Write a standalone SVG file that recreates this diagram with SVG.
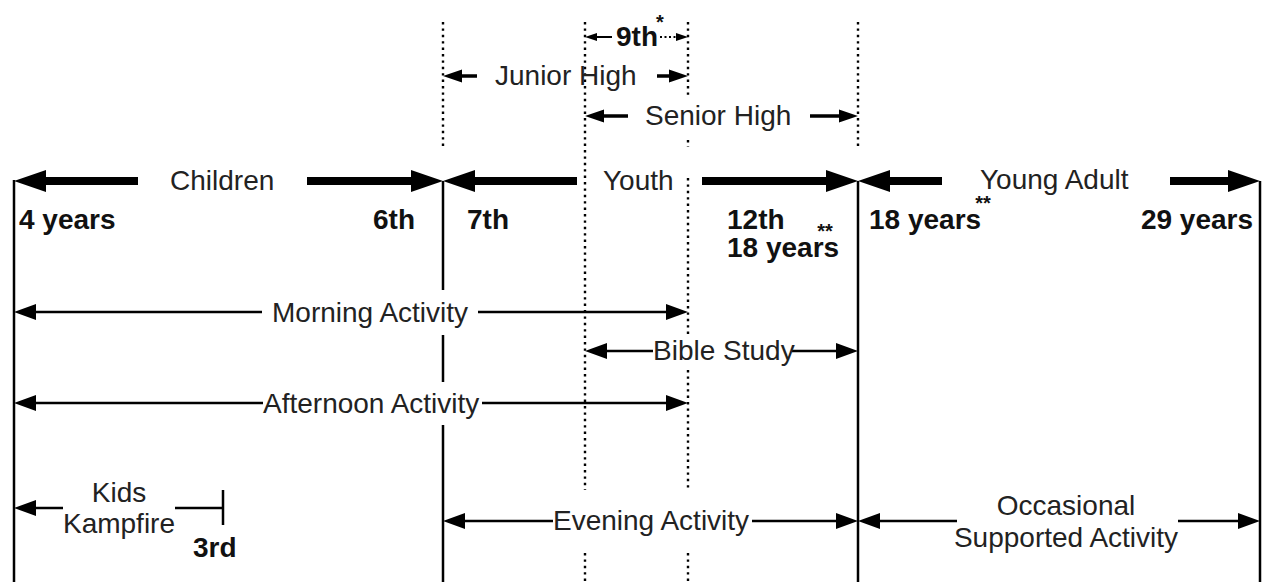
<svg xmlns="http://www.w3.org/2000/svg" width="1267" height="582" viewBox="0 0 1267 582">
<style>
text{font-family:"Liberation Sans",Arial,sans-serif;font-size:28px;fill:#222}
.b{font-weight:bold;fill:#111}
.ast{font-weight:bold;font-size:20px;fill:#111}
.solid{stroke:#000;stroke-width:2.5;fill:none}
.dot{stroke:#000;stroke-width:2.4;stroke-dasharray:2.4,4;fill:none}
.thick{stroke:#000;stroke-width:8;fill:none}
.med{stroke:#000;stroke-width:3.5;fill:none}
.thin{stroke:#000;stroke-width:2.5;fill:none}
.fine{stroke:#000;stroke-width:2;fill:none}
.hd{fill:#000}
</style>
<rect width="1267" height="582" fill="#fff"/>
<g id="guides">
<path class="solid" d="M14,180V582M443,181V290M443,335V382M443,425V582M858,181V582M1260,181V582"/>
<path class="dot" d="M443,22V146M858,22V146M585,22V490M585,553V582M688,22V96M688,140V147M688,178V335M688,370V490M688,553V582"/>
</g>
<g id="connectors">
<path class="thick" d="M138,181H38M307,181H419M577,181H467M702,181H834M942,181H882M1170,181H1236"/>
<path class="hd" d="M14,181L46,170V192ZM443,181L411,170V192ZM443,181L475,170V192ZM858,181L826,170V192ZM858,181L890,170V192ZM1260,181L1228,170V192Z"/>
<path class="fine" d="M612,37H592"/>
<path class="fine" d="M660,37H680" stroke-dasharray="2,2.5"/>
<path class="hd" d="M585,37L597,33V41ZM688,37L676,33V41Z"/>
<path class="med" d="M477,76H455M657,76H676M628,116H597M810,116H846"/>
<path class="hd" d="M443,76L462,69.5V82.5ZM688,76L669,69.5V82.5ZM585,116L604,109.5V122.5ZM858,116L839,109.5V122.5Z"/>
<path class="thin" d="M262,312H30M478,312H672M653,351H600M792,351H842M263,403H30M482,403H672M63,508H30M175,508H223M223,490V525M553,521H459M752,521H842M957,521H874M1178,521H1244"/>
<path class="hd" d="M14,312L36,304V320ZM688,312L666,304V320ZM585,351L607,343V359ZM858,351L836,343V359ZM14,403L36,395V411ZM688,403L666,395V411ZM14,508L36,500V516ZM443,521L465,513V529ZM858,521L836,513V529ZM858,521L880,513V529ZM1260,521L1238,513V529Z"/>
</g>
<g id="stage-children"><text x="170" y="190">Children</text></g>
<g id="stage-youth"><text x="603" y="190">Youth</text></g>
<g id="stage-young-adult"><text x="980" y="189">Young Adult</text></g>
<g id="grade-9th"><text class="b" x="616" y="46">9th</text><text class="ast" x="660" y="29" text-anchor="middle">*</text></g>
<g id="junior-high"><text x="495" y="85">Junior High</text></g>
<g id="senior-high"><text x="645" y="125">Senior High</text></g>
<g id="labels">
<text class="b" x="19" y="229">4 years</text>
<text class="b" x="415" y="229" text-anchor="end">6th</text>
<text class="b" x="467" y="229">7th</text>
<text class="b" x="727" y="229">12th</text>
<text class="ast" x="825" y="238" text-anchor="middle">**</text>
<text class="b" x="727" y="257">18 years</text>
<text class="b" x="869" y="229">18 years</text>
<text class="ast" x="983" y="210" text-anchor="middle">**</text>
<text class="b" x="1253" y="229" text-anchor="end">29 years</text>
</g>
<g id="morning-activity"><text x="272" y="322">Morning Activity</text></g>
<g id="bible-study"><text x="653" y="360">Bible Study</text></g>
<g id="afternoon-activity"><text x="263" y="413">Afternoon Activity</text></g>
<g id="kids-kampfire">
<text x="119" y="502" text-anchor="middle">Kids</text>
<text x="119" y="533" text-anchor="middle">Kampfire</text>
<text class="b" x="193" y="557">3rd</text>
</g>
<g id="evening-activity"><text x="553" y="530">Evening Activity</text></g>
<g id="occasional-activity">
<text x="1066" y="515" text-anchor="middle">Occasional</text>
<text x="1066" y="547" text-anchor="middle">Supported Activity</text>
</g>
</svg>
